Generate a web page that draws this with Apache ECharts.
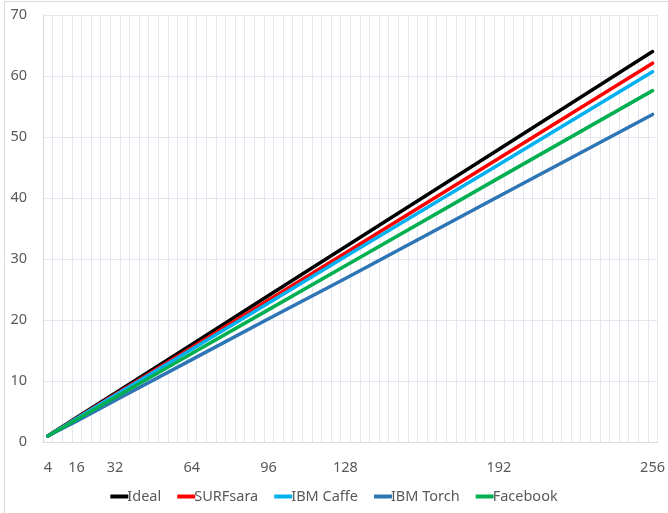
<!DOCTYPE html>
<html>
<head>
<meta charset="utf-8">
<script src="https://cdn.jsdelivr.net/npm/echarts@6/dist/echarts.min.js"></script>
<style>
html,body{margin:0;padding:0;background:#fff;}
#c{width:668px;height:513px;}
</style>
</head>
<body>
<div id="c"></div>
<script>
// Category positions (number of GPUs, step 4)
var categories = [];
for (var g = 4; g <= 256; g += 4) categories.push(String(g));
var tickLabels = ['4', '16', '32', '64', '96', '128', '192', '256'];

// Measured points
var xPoints = ['4', '16', '32', '64', '96', '128', '192', '256'];
var ideal    = [1, 4, 8, 16, 24, 32, 48, 64];
var surfsara = [1, 3.9, 7.8, 15.5, 23.3, 31.0, 46.5, 62.1];
var ibmCaffe = [1, 3.85, 7.65, 15.2, 22.8, 30.4, 45.5, 60.7];
var ibmTorch = [1, 3.4, 6.8, 13.5, 20.2, 26.8, 40.3, 53.7];
var facebook = [1, 3.7, 7.3, 14.5, 21.7, 28.9, 43.3, 57.6];

function pairs(vals) {
  return vals.map(function (v, i) { return [xPoints[i], v]; });
}

var font = 'Noto Sans';
var txt = '#595959';
var legendIcon = 'path://M0,0 L18,0 L18,4 L0,4 Z';

function line(name, vals, color) {
  return {
    name: name, type: 'line', data: pairs(vals),
    symbol: 'none', showSymbol: false,
    lineStyle: { color: color, width: 3.5, cap: 'round' },
    itemStyle: { color: color },
    animation: false
  };
}

var chart = echarts.init(document.getElementById('c'));
chart.setOption({
  backgroundColor: '#ffffff',
  animation: false,
  graphic: [{
    type: 'rect', shape: { x: 4.5, y: 1.5, width: 700, height: 600 },
    style: { fill: 'none', stroke: '#d9d9d9', lineWidth: 1 }, silent: true, z: -1
  }],
  grid: { left: 43, right: 10, top: 15, bottom: 71, containLabel: false },
  legend: {
    bottom: 4, left: 'center', itemWidth: 18, itemHeight: 4, itemGap: 16,
    icon: legendIcon,
    textStyle: { fontFamily: font, fontSize: 14.5, color: txt, padding: [0, 0, 0, -6] },
    data: ['Ideal', 'SURFsara', 'IBM Caffe', 'IBM Torch', 'Facebook']
  },
  xAxis: {
    type: 'category', data: categories, boundaryGap: true,
    axisLine: { show: true, lineStyle: { color: '#d9d9d9', width: 1 } },
    axisTick: { show: false },
    axisLabel: {
      interval: 0, margin: 18, fontFamily: font, fontSize: 14.5, color: txt,
      formatter: function (v) { return tickLabels.indexOf(v) >= 0 ? v : ''; }
    },
    splitLine: { show: true, interval: 0, lineStyle: { color: '#e4e7ee', width: 1 } }
  },
  yAxis: {
    type: 'value', min: 0, max: 70, interval: 10,
    axisLine: { show: true, lineStyle: { color: '#d9d9d9', width: 1 } },
    axisTick: { show: false },
    axisLabel: { margin: 16, fontFamily: font, fontSize: 14.5, color: txt },
    splitLine: { show: true, lineStyle: { color: '#e4e7ee', width: 1 } }
  },
  series: [
    line('Ideal', ideal, '#000000'),
    line('SURFsara', surfsara, '#ff0000'),
    line('IBM Caffe', ibmCaffe, '#00b0f0'),
    line('IBM Torch', ibmTorch, '#2e75b6'),
    line('Facebook', facebook, '#00b050')
  ]
});
</script>
</body>
</html>
